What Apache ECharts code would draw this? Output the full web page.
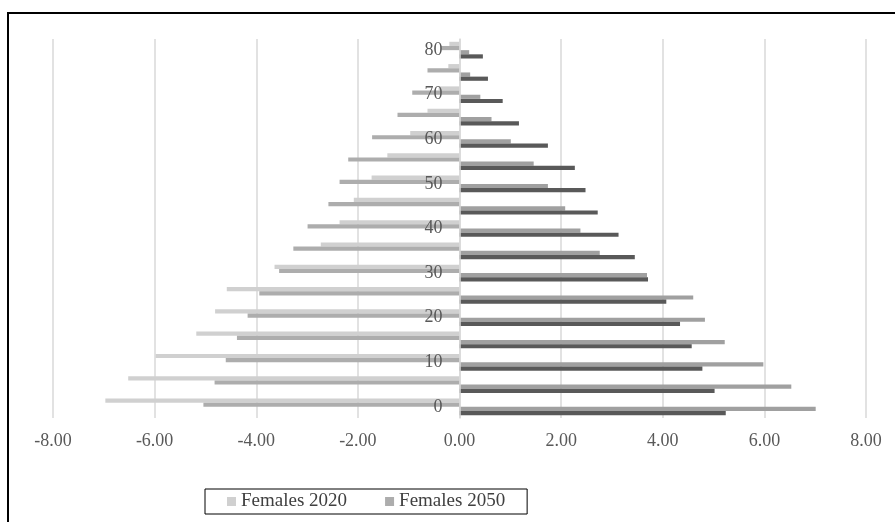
<!DOCTYPE html>
<html>
<head>
<meta charset="utf-8">
<script src="https://cdn.jsdelivr.net/npm/echarts@6/dist/echarts.min.js"></script>
<style>
  html, body { margin: 0; padding: 0; background: #ffffff; }
  #chart { width: 895px; height: 522px; }
</style>
</head>
<body>
<div id="chart"></div>
<script>
// Five-year age groups, youngest first (drawn bottom to top)
const ageGroups = ['0', '5', '10', '15', '20', '25', '30', '35', '40', '45', '50', '55', '60', '65', '70', '75', '80'];

// Share of population (%) per age group; females are drawn on the negative side
const females2020 = [6.97, 6.52, 5.98, 5.18, 4.81, 4.58, 3.64, 2.73, 2.36, 2.08, 1.73, 1.42, 0.97, 0.63, 0.41, 0.22, 0.20];
const females2050 = [5.04, 4.82, 4.60, 4.38, 4.17, 3.94, 3.55, 3.27, 2.99, 2.58, 2.36, 2.19, 1.72, 1.22, 0.93, 0.63, 0.36];
const males2020   = [7.01, 6.53, 5.98, 5.22, 4.83, 4.60, 3.69, 2.76, 2.38, 2.08, 1.74, 1.46, 1.01, 0.63, 0.41, 0.21, 0.19];
const males2050   = [5.24, 5.02, 4.78, 4.57, 4.34, 4.07, 3.71, 3.45, 3.13, 2.72, 2.48, 2.27, 1.74, 1.17, 0.85, 0.56, 0.46];

const legendNames = ['Females 2020', 'Females 2050'];

const FONT = '"Liberation Serif", "Times New Roman", serif';
const GRID_LEFT = 53;
const GRID_RIGHT = 29;
const chartWidth = 895;
const chart = echarts.init(document.getElementById('chart'), null, { renderer: 'canvas' });

// The age axis sits on the zero line of the value axis (-8..8 across the plot width)
const zeroX = GRID_LEFT + (chartWidth - GRID_LEFT - GRID_RIGHT) / 2;

function barSeries(name, values, color, sign) {
  return {
    name: name,
    type: 'bar',
    data: values.map(v => sign * v),
    itemStyle: { color: color },
    barGap: '0%',
    barCategoryGap: '25%',
    emphasis: { disabled: true }
  };
}

chart.setOption({
  animation: false,
  backgroundColor: '#ffffff',
  grid: { left: GRID_LEFT, right: GRID_RIGHT, top: 39, bottom: 104, containLabel: false },
  xAxis: {
    type: 'value',
    min: -8,
    max: 8,
    interval: 2,
    axisLine: { show: false },
    axisTick: { show: false },
    splitLine: { show: true, lineStyle: { color: '#d9d9d9', width: 1.5 } },
    axisLabel: {
      formatter: v => v.toFixed(2),
      color: '#595959',
      fontFamily: FONT,
      fontSize: 18,
      margin: 14
    }
  },
  yAxis: {
    type: 'category',
    data: ageGroups,
    position: 'left',
    offset: -(zeroX - GRID_LEFT),
    z: 10,
    axisLine: { show: true, onZero: false, lineStyle: { color: '#d9d9d9', width: 1.5 } },
    axisTick: { show: false },
    splitLine: { show: false },
    axisLabel: {
      interval: 1,
      margin: 17,
      color: '#595959',
      fontFamily: FONT,
      fontSize: 18
    }
  },
  legend: {
    data: legendNames,
    left: 205,
    top: 489,
    icon: 'rect',
    itemWidth: 9,
    itemHeight: 9,
    itemGap: 38,
    padding: [3, 22, 3, 22],
    borderColor: '#000000',
    borderWidth: 1,
    textStyle: { color: '#404040', fontFamily: FONT, fontSize: 19 },
    selectedMode: false
  },
  graphic: [
    { type: 'line', shape: { x1: 8, y1: 13, x2: 8, y2: 522 }, style: { stroke: '#000000', lineWidth: 2 } },
    { type: 'line', shape: { x1: 7, y1: 13, x2: 895, y2: 13 }, style: { stroke: '#000000', lineWidth: 2 } }
  ],
  series: [
    barSeries('Females 2020', females2020, '#d0d0d0', -1),
    barSeries('Females 2050', females2050, '#adadad', -1),
    barSeries('Males 2020', males2020, '#a0a0a0', 1),
    barSeries('Males 2050', males2050, '#595959', 1)
  ]
});
</script>
</body>
</html>
